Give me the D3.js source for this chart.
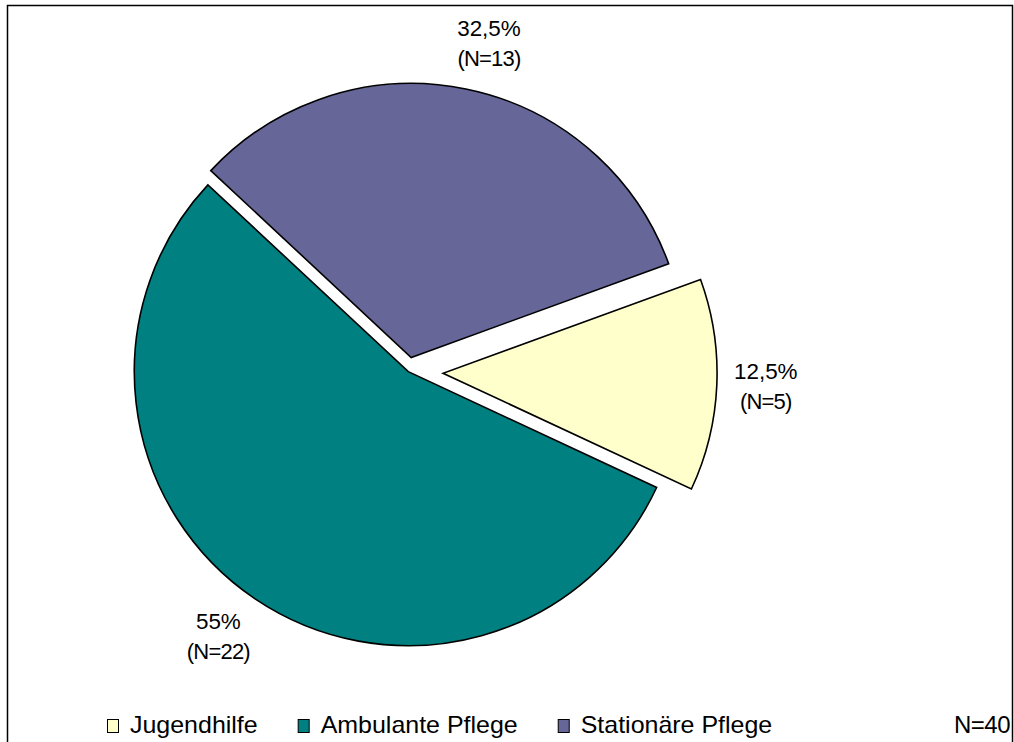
<!DOCTYPE html>
<html>
<head>
<meta charset="utf-8">
<script src="https://cdn.jsdelivr.net/npm/d3@7/dist/d3.min.js"></script>
<style>
  html, body { margin: 0; padding: 0; background: #fff; }
  svg { display: block; }
  text { font-family: "Liberation Sans", Arial, sans-serif; fill: #000; }
</style>
</head>
<body>
<svg id="chart" width="1014" height="742"></svg>
<script>
// Distribution by field of work (N=40)
const categories = ["Jugendhilfe", "Ambulante Pflege", "Stationäre Pflege"];
const counts = [5, 22, 13];
const percentLabels = ["12,5%", "55%", "32,5%"];
const countLabels = ["(N=5)", "(N=22)", "(N=13)"];
const totalLabel = "N=40";

const colors = ["#FFFFCC", "#008080", "#666699"];
// Fraction of the radius each slice is pulled out of the pie
const explode = [0.127, 0, 0.053];
// Small horizontal shifts for the data labels
const labelShift = [3, -11, 14];

const W = 1014, H = 742;
const cx = 408.3, cy = 371.7, R = 274;
const deg = Math.PI / 180;

const svg = d3.select("#chart");

// Frame (open at the bottom)
svg.append("path")
  .attr("d", `M7.5,${H + 2} L7.5,5.5 L1012.5,5.5 L1012.5,${H + 2}`)
  .attr("fill", "none")
  .attr("stroke", "#000")
  .attr("stroke-width", 1.5);

const pie = d3.pie()
  .value(d => d)
  .sort(null)
  .startAngle(70 * deg)
  .endAngle(430 * deg);

const arcs = pie(counts);
const arc = d3.arc().innerRadius(0).outerRadius(R);

function dir(a) { return [Math.sin(a), -Math.cos(a)]; }

const g = svg.append("g").attr("transform", `translate(${cx},${cy})`);

arcs.forEach((a, i) => {
  const mid = (a.startAngle + a.endAngle) / 2;
  const [dx, dy] = dir(mid);
  const off = explode[i] * R;
  g.append("path")
    .attr("d", arc(a))
    .attr("transform", `translate(${dx * off},${dy * off})`)
    .attr("fill", colors[i])
    .attr("stroke", "#000")
    .attr("stroke-width", 1.6)
    .attr("stroke-linejoin", "miter");
});

// Slight horizontal stretch applied to text runs
function stretch(sel, k) {
  sel.each(function () {
    const w = this.getComputedTextLength();
    d3.select(this).attr("textLength", w * k).attr("lengthAdjust", "spacingAndGlyphs");
  });
}

// Data labels outside each slice
const labelR = 320;
arcs.forEach((a, i) => {
  const mid = (a.startAngle + a.endAngle) / 2;
  const [dx, dy] = dir(mid);
  const off = explode[i] * R;
  const x = dx * (off + labelR) + labelShift[i];
  const y = dy * (off + labelR);
  const t1 = g.append("text")
    .attr("x", x).attr("y", y - 8)
    .attr("text-anchor", "middle")
    .attr("font-size", 22)
    .text(percentLabels[i]);
  const t2 = g.append("text")
    .attr("x", x).attr("y", y + 22)
    .attr("text-anchor", "middle")
    .attr("font-size", 22)
    .attr("letter-spacing", -0.8)
    .text(countLabels[i]);
  stretch(t1, 1.02);
});

// Legend
const legend = svg.append("g");
let lx = 107;
const ly = 733;
categories.forEach((c, i) => {
  legend.append("rect")
    .attr("x", lx + 0.5).attr("y", 719.5)
    .attr("width", 11).attr("height", 13)
    .attr("fill", colors[i])
    .attr("stroke", "#000")
    .attr("stroke-width", 1);
  const t = legend.append("text")
    .attr("x", lx + 23).attr("y", ly)
    .attr("font-size", 24)
    .text(c);
  stretch(t, 1.04);
  lx += 23 + +t.attr("textLength") + 40;
});

svg.append("text")
  .attr("x", 1010).attr("y", ly)
  .attr("text-anchor", "end")
  .attr("font-size", 24)
  .attr("letter-spacing", -0.5)
  .text(totalLabel);
</script>
</body>
</html>
